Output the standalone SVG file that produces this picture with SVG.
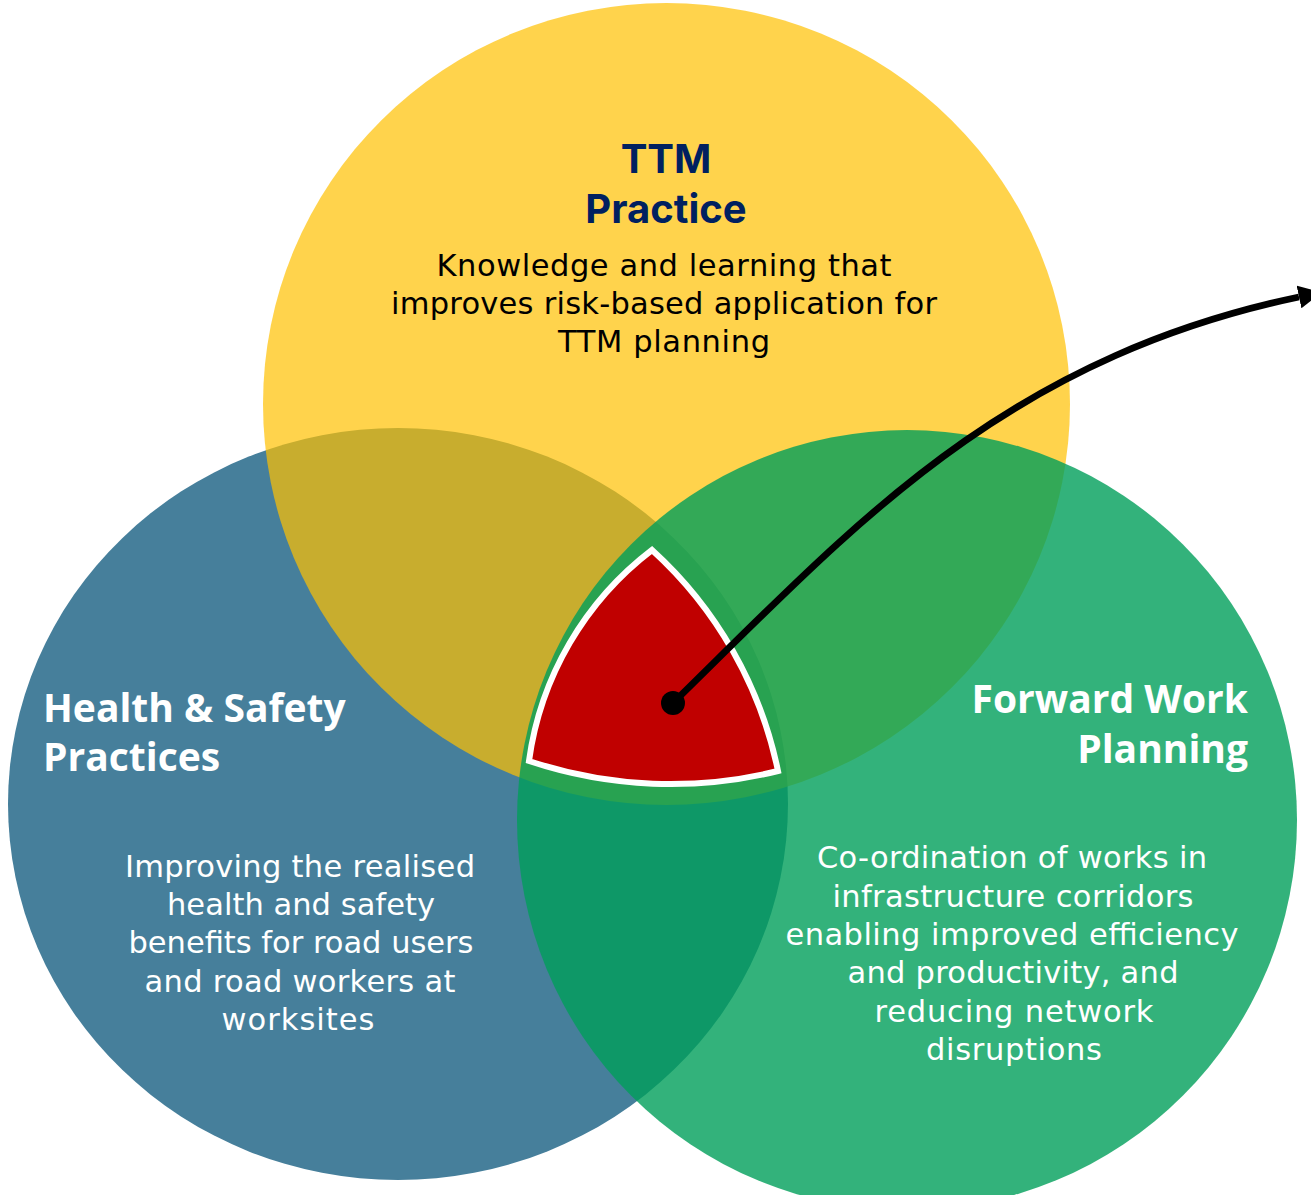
<svg xmlns="http://www.w3.org/2000/svg" width="1311" height="1195" viewBox="0 0 1311 1195">
  <style>
    .body { font-family: "DejaVu Sans", "Open Sans", sans-serif; font-size: 30.5px; text-anchor: middle; }
    .head { font-family: "Open Sans", "Noto Sans", sans-serif; font-size: 39px; font-weight: 700; fill: #ffffff; }
    .title { font-family: Inter, "Open Sans", sans-serif; font-size: 40px; font-weight: 700; fill: #002060; text-anchor: middle; }
    .light { fill: #ffffff; }
    .dark { fill: #000000; }
  </style>
  <defs>
    <marker id="arrowhead" viewBox="0 0 10 10" refX="0" refY="5" markerWidth="3.4" markerHeight="3.4" orient="auto" markerUnits="strokeWidth">
      <path d="M0,0 L10,5 L0,10 z" fill="#000000"/>
    </marker>
  </defs>

  <rect width="1311" height="1195" fill="#ffffff"/>

  <!-- Health & Safety Practices -->
  <g id="health-safety">
    <ellipse cx="398" cy="804" rx="390" ry="376" fill="#467F9B"/>
    <text class="head" x="43" y="722">Health &amp; Safety</text>
    <text class="head" x="43" y="771">Practices</text>
    <text class="body light" x="300" y="877" textLength="350">Improving the realised</text>
    <text class="body light" x="301" y="915" textLength="268">health and safety</text>
    <text class="body light" x="301" y="953" textLength="345">benefits for road users</text>
    <text class="body light" x="300" y="992" textLength="311">and road workers at</text>
    <text class="body light" x="298" y="1030" textLength="153">worksites</text>
  </g>

  <!-- TTM Practice -->
  <g id="ttm-practice">
    <ellipse cx="666.5" cy="404" rx="403.5" ry="401" fill="#FFC000" fill-opacity="0.7"/>
    <text class="title" x="666" y="173">TTM</text>
    <text class="title" x="666" y="223">Practice</text>
    <text class="body dark" x="664" y="276" textLength="455">Knowledge and learning that</text>
    <text class="body dark" x="664" y="314" textLength="546">improves risk-based application for</text>
    <text class="body dark" x="664" y="352" textLength="212">TTM planning</text>
  </g>

  <!-- Forward Work Planning -->
  <g id="forward-work-planning">
    <circle cx="907" cy="820" r="390" fill="#009F5A" fill-opacity="0.8"/>
    <text class="head" x="1248" y="713" text-anchor="end">Forward Work</text>
    <text class="head" x="1248" y="763" text-anchor="end">Planning</text>
    <text class="body light" x="1012" y="868" textLength="390">Co-ordination of works in</text>
    <text class="body light" x="1013" y="907" textLength="361">infrastructure corridors</text>
    <text class="body light" x="1012" y="945" textLength="453">enabling improved efficiency</text>
    <text class="body light" x="1013" y="983" textLength="331">and productivity, and</text>
    <text class="body light" x="1014" y="1022" textLength="279">reducing network</text>
    <text class="body light" x="1014" y="1060" textLength="176">disruptions</text>
  </g>

  <!-- shared core where all three meet -->
  <g id="core">
    <path d="M652,550 A320,320 0 0 0 529,761 A447,447 0 0 0 778,771 A410,410 0 0 0 652,550 Z"
          fill="#C00000" stroke="#ffffff" stroke-width="6" stroke-linejoin="miter" stroke-miterlimit="10"/>
  </g>

  <!-- connector leading out of the core -->
  <g id="connectors">
    <path d="M673,703 C850,530 1000,360 1299,297" fill="none" stroke="#000000" stroke-width="6.8" marker-end="url(#arrowhead)"/>
    <circle cx="673" cy="703" r="12" fill="#000000"/>
  </g>
</svg>
